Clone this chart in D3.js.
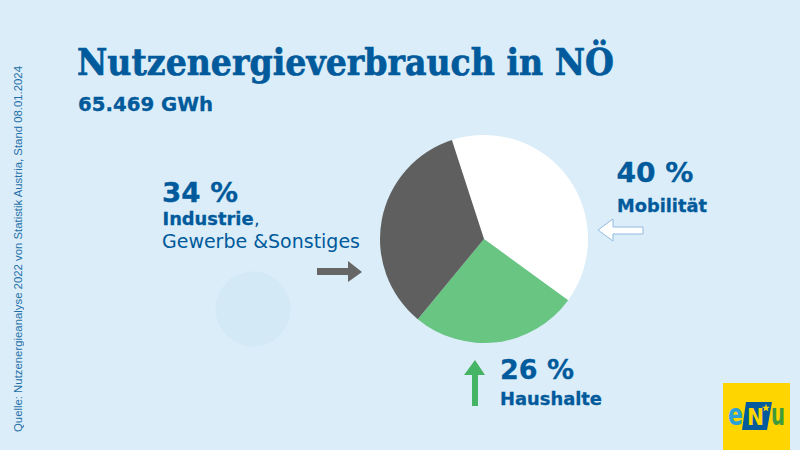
<!DOCTYPE html>
<html><head><meta charset="utf-8">
<script src="https://cdnjs.cloudflare.com/ajax/libs/d3/7.8.5/d3.min.js"></script>
<style>
html,body{margin:0;padding:0;background:#dbedf8;overflow:hidden}
text{font-family:"DejaVu Sans",sans-serif;fill:#005a9b}
</style></head><body>
<svg id="c" width="800" height="450"></svg>
<script>
const categories=["Mobilität","Haushalte","Industrie"];
const shares=[40,26,34];
const sliceColors=["#ffffff","#68c582","#5f5f5f"];
const titleText="Nutzenergieverbrauch in NÖ";
const subtitleText="65.469 GWh";
const sourceText="Quelle: Nutzenergieanalyse 2022 von Statistik Austria, Stand 08.01.2024";

const svg=d3.select("#c");
svg.append("rect").attr("width",800).attr("height",450).attr("fill","#dbedf8");
svg.append("circle").attr("cx",253).attr("cy",309).attr("r",37.5).attr("fill","#d3e9f5");

const txt=(x,y,s,size,weight,len,sw)=>{
  const t=svg.append("text").attr("x",x).attr("y",y).attr("font-size",size).attr("font-weight",weight).text(s);
  if(len)t.attr("textLength",len).attr("lengthAdjust","spacingAndGlyphs");
  if(sw)t.style("stroke","#005a9b").style("stroke-width",sw);
  return t;
};
txt(77,75,titleText,37,700,537,0.7).style("font-family","'DejaVu Serif',serif");
txt(78,110.5,subtitleText,19.5,700,135,0.3);
svg.append("text").attr("transform","translate(22,432) rotate(-90)").attr("font-size",11.5).attr("textLength",366).attr("lengthAdjust","spacingAndGlyphs").attr("opacity",0.85).style("font-family","'Liberation Sans',sans-serif").text(sourceText);

const start=-18*Math.PI/180;
const pie=d3.pie().sort(null).value(d=>d).startAngle(start).endAngle(start+2*Math.PI);
const arc=d3.arc().innerRadius(0).outerRadius(104);
svg.append("g").attr("transform","translate(484,239)").selectAll("path").data(pie(shares)).join("path").attr("d",arc).attr("fill",(d,i)=>sliceColors[i]);

txt(162,202,shares[2]+" %",26.5,700,76,0.3);
txt(162.5,225,categories[2],18,700,91,0.3);
txt(254,225,",",18,400);
txt(162,248,"Gewerbe &Sonstiges",19,400,198);

txt(616.5,182,shares[0]+" %",26.5,700,77,0.3);
txt(617,212,categories[0],18,700,90,0.3);
txt(500,379,shares[1]+" %",26.5,700,74,0.3);
txt(500,405,categories[1],18,700,102,0.3);

const arrow=(pts,fill,stroke)=>svg.append("polygon").attr("points",pts.map(p=>p.join(",")).join(" ")).attr("fill",fill).attr("stroke",stroke||"none").attr("stroke-width",stroke?1:0);
arrow([[317,268],[348,268],[348,261],[362,272],[348,282],[348,275],[317,275]],"#666666");
arrow([[643,227],[613,227],[613,219],[598,230],[613,241],[613,234],[643,234]],"#ffffff","#8fbbe0");
arrow([[472,406],[472,375],[464,375],[475,360],[485,375],[478,375],[478,406]],"#45b565");

// logo
svg.append("rect").attr("x",723).attr("y",383).attr("width",67).attr("height",67).attr("fill","#ffd500");
svg.append("polygon").attr("points","746,402 772,402 767,430 742,430").attr("fill","#005a9b");
const lg=(x,s,c,size,len)=>svg.append("text").attr("x",x).attr("y",425).attr("font-size",size).attr("font-weight",700).attr("textLength",len).attr("lengthAdjust","spacingAndGlyphs").text(s).style("fill",c);
lg(728,"e","#2a9fd8",30,15);
lg(747,"N","#ffd500",23,17);
lg(771,"u","#3f9a3c",30,14);
svg.append("path").attr("transform","translate(766,408)").attr("d",d3.symbol(d3.symbolStar,22)).attr("fill","#ffd500");
</script></body></html>
